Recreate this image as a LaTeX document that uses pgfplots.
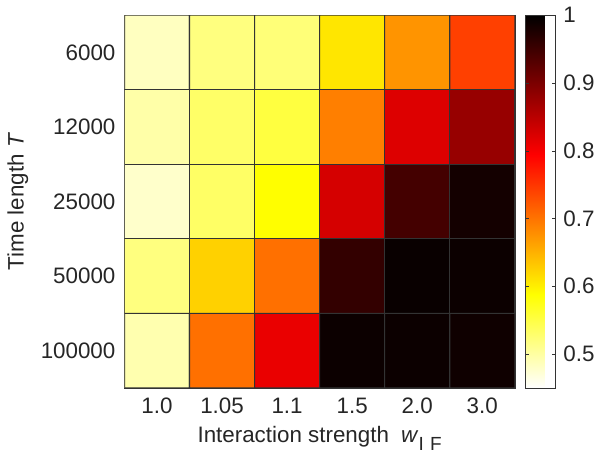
\documentclass[border=0pt]{standalone}
\usepackage{pgfplots}
\pgfplotsset{compat=1.18}
\usepackage{fontspec}
\setmainfont{Liberation Sans}
\newcommand{\lf}{\fontsize{16.5pt}{19pt}\selectfont}
\begin{document}
\lf
\begin{tikzpicture}
\begin{axis}[
  width=288pt, height=275pt, scale only axis,
  xmin=-0.5, xmax=5.5, ymin=-0.5, ymax=4.5,
  y dir=reverse,
  xtick={0,1,2,3,4,5},
  xticklabels={1.0,1.05,1.1,1.5,2.0,3.0},
  ytick={0,1,2,3,4},
  yticklabels={6000,12000,25000,50000,100000},
  major tick length=0pt,
  tick label style={font=\lf, text=black!85},
  label style={font=\lf, text=black!85},
  xticklabel style={yshift=-2pt},
  yticklabel style={xshift=-1pt},
  /pgf/number format/assume math mode=true,
  xlabel={Interaction strength\hspace{9pt}\textit{w}\raisebox{-6pt}{\fontsize{14pt}{16pt}\selectfont I\,\,F}},
  xlabel style={yshift=2pt},
  ylabel={Time length \textit{T}},
  ylabel style={yshift=-2pt},
  axis line style={black!80},
  colormap={revhot}{rgb(0cm)=(1,1,1); rgb(2cm)=(1,1,0); rgb(5cm)=(1,0,0); rgb(8cm)=(0,0,0)},
  point meta min=0.45, point meta max=1,
  colorbar,
  colorbar shift/.style={xshift=7.5pt},
  colorbar style={
    width=22.5pt,
    ytick={0.5,0.6,0.7,0.8,0.9,1},
    yticklabels={0.5,0.6,0.7,0.8,0.9,1},
    major tick length=3pt,
    tick style={black!80},
    axis line style={black!80},
    tick label style={font=\lf, text=black!85},
  },
]
\addplot[matrix plot*, draw=black!80, line width=0.8pt, mesh/cols=6, point meta=explicit]
table[meta=c] {
x y c
0 0 0.484
1 0 0.519
2 0 0.523
3 0 0.608
4 0 0.674
5 0 0.742
0 1 0.497
1 1 0.532
2 1 0.553
3 1 0.691
4 1 0.821
5 1 0.878
0 2 0.478
1 2 0.533
2 2 0.588
3 2 0.828
4 2 0.945
5 2 0.984
0 3 0.519
1 3 0.625
2 3 0.703
3 3 0.959
4 3 0.993
5 3 0.990
0 4 0.493
1 4 0.703
2 4 0.811
3 4 0.990
4 4 0.990
5 4 0.988
};
\end{axis}
\end{tikzpicture}
\end{document}
